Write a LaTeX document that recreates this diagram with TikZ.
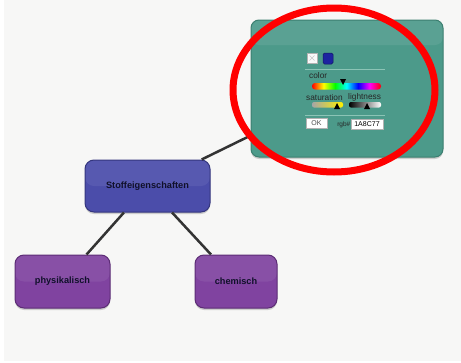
\documentclass[tikz,border=0pt]{standalone}
\usepackage{fontspec}
\setmainfont{Liberation Sans}
\usetikzlibrary{shadows}

\definecolor{paperGray}{HTML}{F7F7F6}
\definecolor{rootFill}{HTML}{4B4DAA}
\definecolor{rootLine}{HTML}{34367E}
\definecolor{leafFill}{HTML}{8043A0}
\definecolor{leafLine}{HTML}{5C2C75}
\definecolor{panelFill}{HTML}{4C9A8A}
\definecolor{panelLine}{HTML}{3C7F70}
\definecolor{sepColor}{HTML}{8CC4B6}
\definecolor{labelInk}{HTML}{10102A}
\definecolor{pickBlue}{HTML}{1C24A0}

\pgfdeclarehorizontalshading{hueBar}{100bp}{color(0bp)=(red); color(25bp)=(red); color(33.33bp)=(yellow); color(41.67bp)=(green); color(50bp)=(cyan); color(58.33bp)=(blue); color(66.67bp)=(magenta); color(75bp)=(red); color(100bp)=(red)}

\tikzstyle{topicBox}=[shape=rectangle,rounded corners=9pt,line width=1pt,
  drop shadow={shadow xshift=0pt,shadow yshift=-2pt,opacity=0.35},
  font=\fontsize{9.2}{10}\selectfont\bfseries,text=labelInk,
  path picture={\fill[white,opacity=0.07] (path picture bounding box.north west) rectangle (path picture bounding box.east);}]
\tikzstyle{rootState}=[topicBox,draw=rootLine,fill=rootFill,minimum width=125pt,minimum height=52pt]
\tikzstyle{leafState}=[topicBox,draw=leafLine,fill=leafFill,minimum height=53pt]
\tikzstyle{colorPanel}=[shape=rectangle,rounded corners=8pt,line width=1pt,draw=panelLine,fill=panelFill,
  minimum width=192pt,minimum height=137pt,
  drop shadow={shadow xshift=0pt,shadow yshift=-2pt,opacity=0.35},
  path picture={\fill[white,opacity=0.08] (path picture bounding box.north west) rectangle ([yshift=-25pt]path picture bounding box.north east);}]
\tikzstyle{connector}=[line width=2.5pt,draw=black!80]
\tikzstyle{panelText}=[inner sep=0pt,font=\fontsize{8.3}{9}\selectfont,text=black!85]
\tikzstyle{sepLine}=[line width=0.8pt,draw=sepColor]
\tikzstyle{smallField}=[shape=rectangle,inner sep=0pt,fill=white,draw=gray!60,line width=0.4pt,
  minimum height=10pt,font=\fontsize{7}{8}\selectfont]

\begin{document}
\begin{tikzpicture}[x=1pt,y=-1pt]
        \useasboundingbox (0,0) rectangle (461,362);
        \fill[white] (0,0) rectangle (461,362);
        \fill[paperGray] (4,0) rectangle (461,361);

        % map
        \node[colorPanel] (panel) at (347,88.5) {};
        \node[rootState] (stoff) at (147.5,186) {Stoffeigenschaften};
        \node[leafState,minimum width=95pt] (phys) at (62.5,281.5) {physikalisch};
        \node[leafState,minimum width=82pt] (chem) at (236,281.5) {chemisch};

        \draw [connector] (stoff) to (panel);
        \draw [connector] (stoff) to (phys);
        \draw [connector] (stoff) to (chem);

        % picker widgets
        \filldraw[fill=gray!5,draw=gray!60,line width=0.4pt] (307,53) rectangle (317,63);
        \draw[gray!45,line width=0.6pt] (309.5,55.5) -- (314.5,60.5) (309.5,60.5) -- (314.5,55.5);
        \filldraw[fill=pickBlue,draw=pickBlue!60!black,line width=0.5pt,rounded corners=1.5pt] (323,53) rectangle (333,64);

        \draw[sepLine] (305,69) -- (385,69);
        \node[panelText,anchor=west] (colorLabel) at (309,75.5) {color};
        \shade[shading=hueBar,rounded corners=3pt] (312,83) rectangle (381,89.5);
        \fill[black] (340,79) -- (346,79) -- (343,85) -- cycle;

        \node[panelText,anchor=west] (satLabel) at (306,97.5) {saturation};
        \node[panelText,anchor=west] (lightLabel) at (348,97.5) {lightness};
        \shade[left color=gray!70,right color=yellow!90!orange,rounded corners=2pt] (312,102) rectangle (343,107.5);
        \shade[left color=black,right color=white,rounded corners=2pt] (349,102) rectangle (381,107.5);
        \fill[black] (334,109) -- (340,109) -- (337,103) -- cycle;
        \fill[black] (364,109) -- (370,109) -- (367,103) -- cycle;

        \draw[sepLine] (305,115) -- (385,115);
        \node[smallField,minimum width=21pt,text=black!70] (okBtn) at (316.5,123) {OK};
        \node[panelText,anchor=east,font=\fontsize{6.5}{7}\selectfont] (rgbLabel) at (350.5,124.5) {rgb\#};
        \node[smallField,minimum width=32pt] (hexInput) at (367,124) {1A8C77};

        % highlight
        \draw[red,line width=7pt] (334,90) ellipse [x radius=101pt,y radius=82pt];
    \end{tikzpicture}
\end{document}
